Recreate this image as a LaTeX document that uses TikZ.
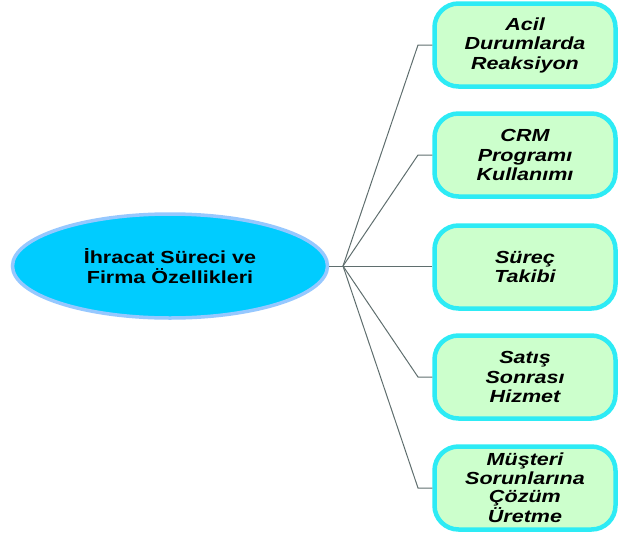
\documentclass[tikz,border=0pt]{standalone}
\usepackage{fontspec}
\usetikzlibrary{shapes.geometric}
\newfontfamily\diagfont[FakeStretch=1.23]{Liberation Sans}
\definecolor{boxfill}{RGB}{204,255,204}
\definecolor{boxedge}{RGB}{45,235,245}
\definecolor{ellfill}{RGB}{0,204,255}
\definecolor{elledge}{RGB}{150,200,255}
\definecolor{linkgray}{RGB}{95,110,110}
\begin{document}
\begin{tikzpicture}[x=1pt,y=-1pt,
  leaf/.style={draw=boxedge, fill=boxfill, line width=4.5pt, rounded corners=24pt,
    minimum width=181pt, minimum height=83pt, align=center, inner sep=0pt,
    font=\diagfont\bfseries\itshape\fontsize{17.5}{19.5}\selectfont},
  root/.style={ellipse, draw=elledge, fill=ellfill, line width=3.5pt,
    minimum width=315pt, minimum height=104pt, align=center, inner sep=0pt,
    font=\diagfont\bfseries\fontsize{17.5}{20}\selectfont},
  link/.style={draw=linkgray, line width=1pt}]
\useasboundingbox (0,0) rectangle (620,538);
\node[root] (ell) at (170,266) {İhracat Süreci ve\\Firma Özellikleri};
\coordinate (hub) at (343,266);
\coordinate (elbow) at (418,0);
\node[leaf] (b1) at (525,45) {Acil\\Durumlarda\\Reaksiyon};
\node[leaf] (b2) at (525,155) {CRM\\Programı\\Kullanımı};
\node[leaf] (b3) at (525,267) {Süreç\\Takibi};
\node[leaf] (b4) at (525,377) {Satış\\Sonrası\\Hizmet};
\node[leaf, font=\diagfont\bfseries\itshape\fontsize{17.5}{18.5}\selectfont] (b5) at (525,488) {Müşteri\\Sorunlarına\\Çözüm\\Üretme};
\draw[link] (ell.east) -- (hub);
\foreach \b in {b1,b2,b4,b5}{
  \draw[link] (hub) -- (\b.west -| elbow) -- (\b.west);
}
\draw[link] (hub) -- (b3.west |- hub);
\end{tikzpicture}
\end{document}
